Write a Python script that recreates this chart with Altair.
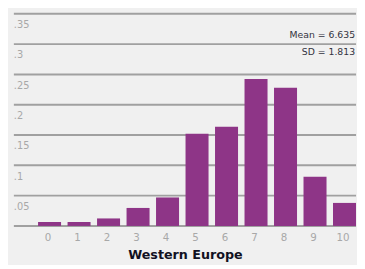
import altair as alt
import pandas as pd

scores = list(range(11))
fractions = [0.0065, 0.0065, 0.0124, 0.0297, 0.047, 0.152, 0.1635, 0.2426, 0.228, 0.081, 0.038]
ytick_values = [0.05, 0.1, 0.15, 0.2, 0.25, 0.3, 0.35]
ytick_labels = [".05", ".1", ".15", ".2", ".25", ".3", ".35"]
stats_lines = ["Mean = 6.635", "SD = 1.813"]
stats_y = [0.3145, 0.2865]
title_text = "Western Europe"

BAR = "#8e3587"
GRID = "#a0a0a0"
BG = "#f0f0f0"
FONT = "DejaVu Sans"

half = 0.39
bars_df = pd.DataFrame({"score": scores, "frac": fractions})
bars_df["x0"] = bars_df["score"] - half
bars_df["x1"] = bars_df["score"] + half

grid_df = pd.DataFrame({"v": [0.0] + ytick_values})
lab_df = pd.DataFrame({"v": ytick_values, "lab": ytick_labels})
stat_df = pd.DataFrame({"t": stats_lines, "y": stats_y})

xscale = alt.Scale(domain=[-1.21, 10.39], nice=False, zero=False)
yscale = alt.Scale(domain=[0, 0.35], nice=False)

grid = alt.Chart(grid_df).mark_rule(color=GRID, strokeWidth=2).encode(
    y=alt.Y("v:Q", scale=yscale, axis=None),
)

bars = alt.Chart(bars_df).mark_rect(color=BAR).encode(
    x=alt.X("x0:Q", scale=xscale,
            axis=alt.Axis(values=scores, format="d", title=title_text, ticks=False,
                          domain=False, grid=False, labelColor="#a8a8a8", labelFontSize=10.5,
                          labelFont=FONT, labelPadding=7, labelOffset=-2, titleFont=FONT,
                          titleFontSize=13, titleFontWeight="bold", titleColor="#111122",
                          titlePadding=6)),
    x2="x1:Q",
    y=alt.Y("frac:Q", scale=yscale, axis=None),
    y2=alt.datum(0),
)

labels = alt.Chart(lab_df).mark_text(align="left", baseline="middle", dy=11.5,
                                     color="#a8a8a8", fontSize=10, font=FONT).encode(
    x=alt.value(0),
    y=alt.Y("v:Q", scale=yscale),
    text="lab:N",
)

stats = alt.Chart(stat_df).mark_text(align="right", baseline="middle", color="#333340",
                                     fontSize=9.5, font=FONT).encode(
    x=alt.value(349),
    y=alt.Y("y:Q", scale=yscale),
    text="t:N",
)

chart = alt.layer(grid, bars, labels, stats).properties(
    width=350, height=217,
    background=BG,
    padding={"left": 5, "top": 2, "right": 0, "bottom": 0},
).configure_view(stroke=None)

chart.save("out.html", embed_options={"renderer": "svg", "actions": False})
